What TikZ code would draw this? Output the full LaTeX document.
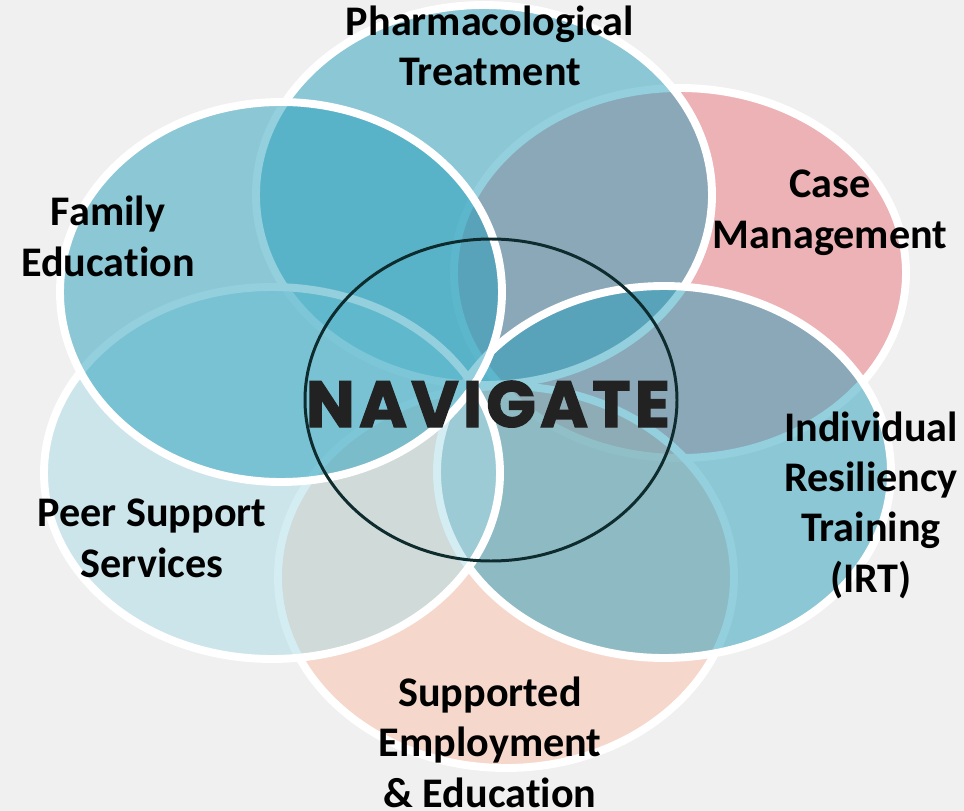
\documentclass[tikz,border=0pt]{standalone}
\usepackage{fontspec}
\setmainfont{Carlito}[Ligatures=NoCommon]
\newfontfamily\navfont{Poppins}[LetterSpace=6.5, FakeBold=2]
\definecolor{bgcol}{RGB}{240,240,240}
\definecolor{teal}{RGB}{40,160,188}
\definecolor{rose}{RGB}{236,118,124}
\definecolor{peach}{RGB}{250,194,168}
\definecolor{pale}{RGB}{170,220,232}
\definecolor{ringcol}{RGB}{14,43,46}
\definecolor{navtext}{RGB}{34,34,34}
\begin{document}
\begin{tikzpicture}[x=0.02cm,y=-0.02cm,
  bubble/.style={line width=4.5pt, draw=white, fill opacity=0.5},
  lbl/.style={font=\bfseries\fontsize{24}{28.5}\selectfont, align=center,
    text=black, inner sep=0pt, anchor=base},
]
\fill[bgcol] (0,0) rectangle (964,811);
\useasboundingbox (0,0) rectangle (964,811);

% six overlapping service bubbles, back to front
\path[bubble, fill=rose]  (680,273) ellipse [x radius=226, y radius=185];
\path[bubble, fill=peach] (506,577) ellipse [x radius=228, y radius=191];
\path[bubble, fill=teal]  (484,195) ellipse [x radius=228, y radius=190];
\path[bubble, fill=teal]  (664,472) ellipse [x radius=227, y radius=186];
\path[bubble, fill=pale]  (272,473) ellipse [x radius=228, y radius=186];
\path[bubble, fill=teal]  (281,292) ellipse [x radius=221, y radius=190];

% central ring
\draw[ringcol, line width=1.7pt] (491,400) ellipse [x radius=186, y radius=161];

% labels (anchored on the baseline of their last line)
\node[lbl] (pharma) at (490,86) {Pharmacological\\Treatment};
\node[lbl] (family) at (108,276) {Family\\Education};
\node[lbl] (case) at (830,248) {Case\\Management};
\node[lbl] (irt) at (871,592) {Individual\\Resiliency\\Training\\(IRT)};
\node[lbl] (peer) at (152,577) {Peer Support\\Services};
\node[lbl] (supp) at (490,807) {Supported\\Employment\\\& Education};
\node[inner sep=0pt, anchor=base, text=navtext,
  font=\navfont\bfseries\fontsize{37}{40}\selectfont] (nav) at (488,427) {NAVIGATE};
\end{tikzpicture}
\end{document}
